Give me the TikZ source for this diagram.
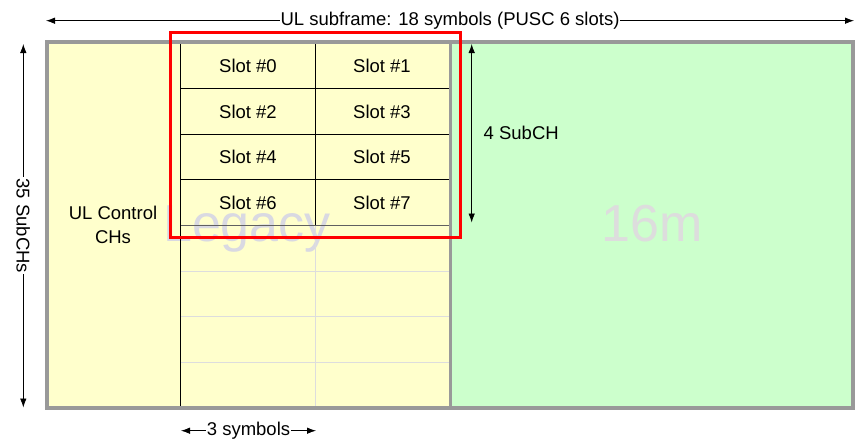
\documentclass[tikz,border=0pt]{standalone}
\usepackage{fontspec}
\setmainfont{Liberation Sans}
\usepackage{tikz}
\usetikzlibrary{arrows.meta, positioning}
\definecolor{legacyfill}{HTML}{FFFFCC}
\definecolor{newfill}{HTML}{CCFFCC}
\definecolor{framegray}{HTML}{999999}
\definecolor{gridgray}{HTML}{DDDDDD}
\definecolor{darkgrid}{HTML}{606060}
\definecolor{marklegacy}{HTML}{D9D9E2}
\definecolor{marknew}{HTML}{DDDDDD}

\begin{document}
\begin{tikzpicture}[
    x=1pt, y=-1pt,
    every node/.style={font=\fontsize{18.5}{23}\selectfont, inner sep=1pt}, % Arial-like labels
    watermark/.style={font=\fontsize{52}{56}\selectfont, anchor=base}, % big pale region names
    dimline/.style={{Latex[length=9pt,width=6.5pt]}-{Latex[length=9pt,width=6.5pt]}, line width=0.8pt}, % arrows that measure
    gridline/.style={line width=0.8pt}, % cell borders
    gap/.style={fill=white, inner sep=1pt} % label that breaks an arrow
    ]
    \useasboundingbox (0,0) rectangle (863,440);
    % regions
    \fill[legacyfill] (46.5,42) rectangle (450,408);
    \fill[newfill] (450,42) rectangle (853,408);
    \node[watermark, text=marklegacy] (legacy) at (247,241.5) {Legacy};
    \node[watermark, text=marknew] (newzone) at (652.5,241.5) {16m};
    % slot grid
    \foreach \r in {5,6,7}
        \draw[gridline, gridgray] (180,{43+45.6*\r}) -- (450,{43+45.6*\r});
    \draw[gridline, gridgray] (315.5,225.4) -- (315.5,408);
    \foreach \r in {1,2,3}
        \draw[gridline] (180,{43+45.6*\r}) -- (450,{43+45.6*\r});
    \draw[gridline, darkgrid] (180,225.4) -- (450,225.4);
    \draw[gridline] (180.3,42) -- (180.3,408);
    \draw[gridline] (315.5,42) -- (315.5,225.4);
    \foreach \r in {0,1,2,3} {
        \pgfmathtruncatemacro{\left}{2*\r}
        \pgfmathtruncatemacro{\right}{2*\r+1}
        \node (slot\left) at (248,{65.8+45.6*\r}) {Slot \#\left};
        \node (slot\right) at (382,{65.8+45.6*\r}) {Slot \#\right};
    }
    \node[align=center, font=\fontsize{18.5}{23.4}\selectfont] (ctrl) at (113,225) {UL Control\\CHs};
    % frame
    \draw[framegray, line width=4pt] (46.5,42) rectangle (853,408);
    \draw[framegray, line width=3pt] (450,42) -- (450,408);
    \draw[red, line width=3pt] (170,32.3) rectangle (460.3,237);
    % dimensions
    \coordinate (topL) at (46,20.7);
    \coordinate (topR) at (854,20.7);
    \coordinate (sideT) at (23.3,44);
    \coordinate (sideB) at (23.3,407.5);
    \coordinate (subT) at (471.7,44);
    \coordinate (subB) at (471.7,222.5);
    \coordinate (symL) at (181,430.7);
    \coordinate (symR) at (316,430.7);
    \draw[dimline] (topL) -- node[gap] (frametxt) {UL subframe: 18 symbols (PUSC 6 slots)} (topR);
    \draw[dimline] (sideT) -- node[gap, rotate=-90] (subchtxt) {35 SubCHs} (sideB);
    \draw[dimline] (subT) -- (subB);
    \node[anchor=west] (fourtxt) at (482.5,133.3) {4 SubCH};
    \draw[dimline] (symL) -- node[gap] (symtxt) {3 symbols} (symR);
\end{tikzpicture}
\end{document}
